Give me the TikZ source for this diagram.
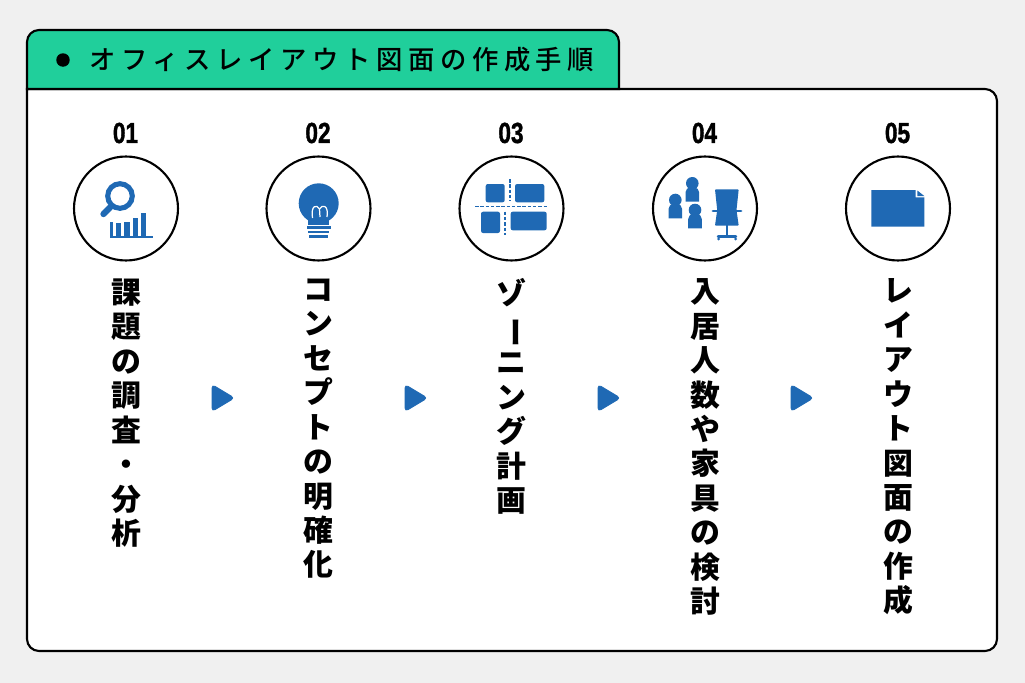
\documentclass[tikz,border=0pt]{standalone}
\usepackage{fontspec}
\usepackage{graphicx}
\setmainfont{Liberation Sans}
\newfontfamily\jpfont{Noto Sans CJK JP Black}
\newfontfamily\jpspaced[LetterSpace=21.2]{Noto Sans CJK JP Medium}
\newfontfamily\numfont[FakeBold=1.6]{Liberation Sans Bold}
\usetikzlibrary{positioning}
\definecolor{iconblue}{HTML}{1F69B4}
\definecolor{tabgreen}{HTML}{20CF9B}
\definecolor{pagegray}{HTML}{F0F0F0}
\tikzstyle{stepcircle} = [circle,draw=black,fill=white,line width=1.2pt,inner sep=0pt,minimum size=2.08cm]
\tikzstyle{stepnum} = [inner sep=0pt,font=\numfont\fontsize{16.5}{18}\selectfont]
\tikzstyle{steptext} = [anchor=north,inner sep=0pt,align=center,font=\jpfont\fontsize{17}{19.6}\selectfont]
\tikzstyle{stepnext} = [fill=iconblue,draw=iconblue,line width=0.4pt,rounded corners=2pt]
\tikzset{>=latex}
\newcommand{\numtext}[1]{\scalebox{0.78}[1]{#1}}
\newcommand{\longbar}{\rotatebox[origin=c]{-90}{ー}}

\begin{document}
\begin{tikzpicture}[x=0.02cm,y=-0.02cm]
    \useasboundingbox (0,0) rectangle (1025,683);
    \fill [pagegray] (0,0) rectangle (1025,683);
    % panel and title tab
    \draw [line width=1.2pt,fill=white] (27,89) -- (985,89) arc (270:360:12) -- (997,639) arc (0:90:12) -- (39,651) arc (90:180:12) -- cycle;
    \draw [line width=1.2pt,fill=tabgreen] (27,89) -- (27,42) arc (180:270:12) -- (607,30) arc (270:360:12) -- (619,89) -- cycle;
    \node [circle,fill=black,inner sep=0pt,minimum size=0.27cm] (bullet) at (63,60) {};
    \node [anchor=west,inner sep=0pt,font=\jpspaced\fontsize{15}{16}\selectfont] (title) at (89,60) {オフィスレイアウト図面の作成手順};
    % steps
    \foreach \i/\x in {1/126,2/318.5,3/511.5,4/705,5/898} {
      \node [stepcircle] (circ\i) at (\x,208.5) {};
      \node [stepnum] (num\i) at (\x-0.5,133) {\numtext{0\i}};
    }
    \node [steptext] (text1) at (126,278.5) {課\\題\\の\\調\\査\\・\\分\\析};
    \node [steptext] (text2) at (318.5,278.5) {コ\\ン\\セ\\プ\\ト\\の\\明\\確\\化};
    \node [steptext] (text3) at (511.5,278.5) {ゾ\\\longbar\\ニ\\ン\\グ\\計\\画};
    \node [steptext] (text4) at (705,278.5) {入\\居\\人\\数\\や\\家\\具\\の\\検\\討};
    \node [steptext] (text5) at (898,278.5) {レ\\イ\\ア\\ウ\\ト\\図\\面\\の\\作\\成};
    % arrows between the steps
    \foreach \x in {212,405,598,791} {
      \draw [stepnext] (\x,384.5) -- (\x+22.5,398) -- (\x,411.5) -- cycle;
    }
    % icon 1
    \draw [iconblue,line width=2.9pt] (120,196) circle (12.3);
    \draw [iconblue,line width=3.6pt,line cap=round] (103.5,214) -- (110,207.5);
    \fill [iconblue] (110,236) rectangle (152.7,238);
    \foreach \a/\b/\t in {110/112.5/222,116/121/223,124.3/129.5/221.7,132.7/138.3/218.3,140.7/146/212.7} {
      \fill [iconblue] (\a,\t) rectangle (\b,237);
    }
    % icon 2
    \fill [iconblue] (318.7,203.3) circle (20);
    \fill [iconblue] (308.3,212) rectangle (329.3,224.5);
    \fill [iconblue] (306.7,226) rectangle (330.7,229.3);
    \fill [iconblue] (308.3,230.7) rectangle (329.3,233.3);
    \fill [iconblue] (309.3,235.3) rectangle (327.7,238.3);
    \draw [white,line width=0.7pt] (312.5,218) .. controls (310.5,205) and (317,204) .. (319.5,209) -- (320,217);
    \draw [white,line width=0.7pt] (319.5,209) .. controls (322,204) and (329,205) .. (327,217);
    % icon 3
    \fill [iconblue,rounded corners=1.2pt] (485.7,184) rectangle (504.7,202.3);
    \fill [iconblue,rounded corners=1.2pt] (515,184) rectangle (544.3,202.3);
    \fill [iconblue,rounded corners=1.2pt] (481,211.7) rectangle (500,233);
    \fill [iconblue,rounded corners=1.2pt] (510.7,211.7) rectangle (546.7,230.3);
    \draw [iconblue,line width=0.8pt,dash pattern=on 2pt off 1pt] (475,206.7) -- (548.3,206.7);
    \draw [iconblue,line width=0.8pt,dash pattern=on 2pt off 1pt] (510,179) -- (510,200.7);
    \draw [iconblue,line width=0.8pt,dash pattern=on 2pt off 1pt] (505,211.7) -- (505,235);
    % icon 4
    \foreach \a/\b in {692.3/183.3,675.3/200,695/210} {
      \fill [iconblue] (\a,\b) circle (6.3);
      \fill [iconblue] (\a-6.8,\b+18.4) -- (\a-6.8,\b+9) arc (180:270:5) -- (\a+1.8,\b+4) arc (270:360:5) -- (\a+6.8,\b+18.4) -- cycle;
    }
    \fill [iconblue,rounded corners=0.5pt] (715,189.3) -- (738.7,189.3) -- (736.5,210) -- (738.7,225.7) -- (715,225.7) -- (717.2,210) -- cycle;
    \draw [iconblue,line width=1.6pt,line cap=round] (713,211) -- (741,211);
    \fill [iconblue] (725.8,225) rectangle (727.8,236);
    \draw [iconblue,line width=1.4pt,line cap=round] (718,236.5) -- (736,236.5);
    \fill [iconblue] (718.5,239) circle (1.5) (735.5,239) circle (1.5);
    % icon 5
    \fill [iconblue] (871.3,190) -- (915.7,190) -- (915.7,197.3) -- (924.3,197.3) -- (924.3,226.7) -- (871.3,226.7) -- cycle;
    \fill [iconblue] (917.3,190.5) -- (924.3,196) -- (917.3,196) -- cycle;
  \end{tikzpicture}
\end{document}
